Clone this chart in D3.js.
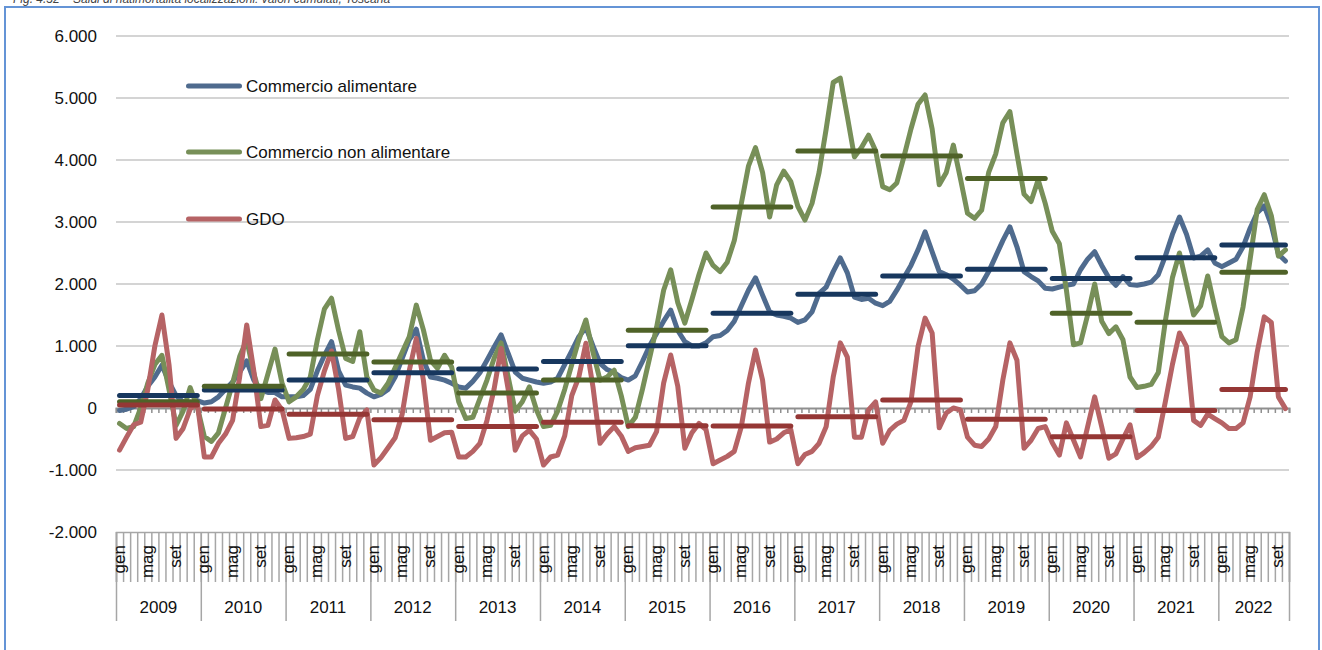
<!DOCTYPE html>
<html>
<head>
<meta charset="utf-8">
<script src="https://cdn.jsdelivr.net/npm/d3@7/dist/d3.min.js"></script>
<style>
  body { margin: 0; background: #fff; }
  svg text { font-family: "Liberation Sans", Arial, sans-serif; }
</style>
</head>
<body>
<svg id="chart" width="1322" height="650"></svg>
<script>
// ---- data ---------------------------------------------------------------
const years = [2009, 2010, 2011, 2012, 2013, 2014, 2015, 2016, 2017, 2018, 2019, 2020, 2021, 2022];
const monthNames = ["gen", "feb", "mar", "apr", "mag", "giu", "lug", "ago", "set", "ott", "nov", "dic"];
const shownMonths = ["gen", "mag", "set"];
const monthsInLastYear = 10;
const yTicks = [-2000, -1000, 0, 1000, 2000, 3000, 4000, 5000, 6000];

// monthly values, one row per year (2022: gen-ott)
const alimentare = [
  -40, -20, 20, 150, 350, 500, 690, 420, 200, 100, 80, 120,
  80, 100, 180, 300, 420, 580, 760, 450, 290, 250, 250, 180,
  180, 180, 200, 300, 600, 850, 1070, 600, 370, 340, 320, 240,
  180, 220, 300, 500, 800, 1100, 1270, 770, 500, 480, 450, 400,
  340, 320, 430, 570, 770, 980, 1180, 880, 580, 480, 450, 420,
  400, 420, 480, 700, 920, 1150, 1300, 1000, 720, 620, 570, 490,
  450, 520, 750, 1000, 1200, 1400, 1580, 1250, 1070, 1000, 1000, 1050,
  1150, 1170, 1250, 1400, 1650, 1900, 2100, 1820, 1550, 1500, 1480, 1450,
  1380, 1420, 1550, 1850, 1950, 2200, 2420, 2180, 1790, 1750, 1770, 1690,
  1650, 1720, 1900, 2100, 2300, 2550, 2840, 2520, 2200, 2150, 2080, 1980,
  1870, 1890, 2000, 2200, 2450, 2700, 2920, 2600, 2200, 2120, 2050, 1930,
  1920, 1950, 1980, 2000, 2230, 2400, 2520, 2300, 2100, 1980, 2120, 1990,
  1980, 2000, 2030, 2150, 2450, 2800, 3080, 2800, 2420, 2450, 2550, 2340,
  2280, 2340, 2400, 2600, 2900, 3150, 3260, 2950, 2480, 2370
];
const nonAlimentare = [
  -250, -330, -300, 0, 400, 700, 850, 300, -280, -50, 330, 20,
  -460, -540, -400, 0, 400, 830, 1100, 560, 150, 550, 950, 400,
  100, 180, 300, 500, 1100, 1600, 1770, 1250, 800, 750, 1230, 500,
  290, 240, 400, 650, 900, 1150, 1660, 1260, 770, 640, 850, 660,
  100, -170, -150, 150, 450, 800, 1050, 500, -50, 100, 340, -30,
  -300, -280, -50, 300, 700, 1100, 1420, 900, 450, 500, 610, 200,
  -300, -150, 300, 800, 1300, 1900, 2230, 1700, 1370, 1750, 2150, 2500,
  2300, 2200, 2350, 2700, 3300, 3900, 4200, 3800, 3080, 3600, 3820, 3650,
  3250, 3030, 3300, 3800, 4500, 5250, 5320, 4700, 4050, 4200, 4400, 4150,
  3570, 3520, 3630, 4050, 4500, 4900, 5050, 4500, 3600, 3800, 4240, 3700,
  3140, 3060, 3190, 3800, 4100, 4600, 4780, 4100, 3450, 3330, 3680, 3300,
  2850, 2650, 1900, 1020, 1050, 1500, 2000, 1400, 1200, 1310, 1100, 500,
  330, 350, 380, 570, 1400, 2100, 2500, 2000, 1500, 1650, 2130, 1620,
  1150, 1050, 1100, 1630, 2400, 3200, 3440, 3100, 2450, 2550
];
const gdo = [
  -680, -470, -270, -230, 300, 1000, 1500, 700, -490, -330, -20, 80,
  -790, -790, -570, -420, -200, 500, 1340, 600, -300, -280, 130, -30,
  -490, -480, -460, -420, 200, 600, 920, 300, -490, -460, -160, -30,
  -920, -800, -640, -480, -100, 600, 1120, 450, -520, -460, -400, -390,
  -790, -790, -700, -570, -200, 300, 960, 300, -680, -450, -360, -500,
  -920, -790, -760, -450, 200, 500, 1045, 340, -570, -420, -300, -450,
  -700, -640, -620, -600, -380, 400, 855, 350, -650, -400, -250, -350,
  -900, -840, -780, -700, -300, 400, 935, 450, -550, -500, -400, -350,
  -900, -750, -700, -570, -300, 500, 1050, 820, -470, -470, -30, 100,
  -570, -360, -260, -200, 100, 990, 1450, 1210, -320, -80, 0, -30,
  -470, -600, -620, -500, -300, 450, 1050, 770, -650, -520, -330, -300,
  -560, -760, -240, -515, -790, -305, 180, -305, -810, -740, -500, -270,
  -800, -720, -620, -470, 100, 700, 1210, 990, -200, -280, -100, -170,
  -240, -330, -330, -240, 180, 900, 1470, 1380, 180, -10
];

// yearly averages, one value per year
const mediaAlimentare = [200, 290, 450, 570, 630, 750, 1005, 1530, 1835, 2130, 2237, 2090, 2425, 2630];
const mediaNonAlimentare = [100, 350, 870, 740, 240, 450, 1255, 3240, 4145, 4065, 3700, 1530, 1385, 2190];
const mediaGdo = [50, -15, -100, -190, -300, -230, -285, -290, -140, 130, -180, -465, -40, 300];

// ---- chart --------------------------------------------------------------
const svg = d3.select("#chart");
const W = 1322, H = 650;
const plot = { left: 116, right: 1289, top: 36, bottom: 532 };

svg.append("rect").attr("width", W).attr("height", H).attr("fill", "#fff");

// caption line above the frame (only its lower part falls inside the page)
svg.append("text")
  .attr("x", 13).attr("y", 3)
  .attr("font-size", 12).attr("font-style", "italic").attr("fill", "#444")
  .text("Fig. 4.32 – Saldi di natimortalità localizzazioni: valori cumulati, Toscana");

// outer frame
svg.append("rect")
  .attr("x", 5).attr("y", 7).attr("width", 1314).attr("height", 700)
  .attr("fill", "none").attr("stroke", "#6494d6").attr("stroke-width", 2);

// month index list
const months = [];
years.forEach((yr, k) => {
  const n = k === years.length - 1 ? monthsInLastYear : 12;
  for (let m = 0; m < n; m++) months.push({ year: yr, m: m, i: months.length });
});
const N = months.length;

const x = d3.scaleBand().domain(d3.range(N)).range([plot.left, plot.right]).padding(0);
const xb = d3.scaleLinear().domain([0, N]).range([plot.left, plot.right]); // month boundaries
const cx = i => x(i) + x.bandwidth() / 2;
const y = d3.scaleLinear().domain([-2000, 6000]).range([plot.bottom, plot.top]);

const it = d3.formatLocale({ decimal: ",", thousands: ".", grouping: [3], currency: ["€", ""], minus: "-" });
const fmt = it.format(",d");

// horizontal grid
svg.append("g")
  .selectAll("line")
  .data(yTicks.filter(v => v !== 0 && v !== -2000))
  .join("line")
  .attr("x1", plot.left).attr("x2", plot.right)
  .attr("y1", d => y(d)).attr("y2", d => y(d))
  .attr("stroke", "#c6c6c6").attr("stroke-width", 1.5);

// value axis labels
const yAxis = svg.append("g")
  .attr("transform", `translate(${plot.left},0)`)
  .call(d3.axisLeft(y).tickValues(yTicks).tickFormat(fmt).tickSize(0).tickPadding(19));
yAxis.select(".domain").remove();
yAxis.selectAll("text").attr("font-size", 17).attr("fill", "#111")
  .attr("font-family", "Liberation Sans, Arial, sans-serif");

// zero line with monthly ticks
const zeroAxis = svg.append("g")
  .attr("transform", `translate(0,${y(0)})`)
  .call(d3.axisBottom(xb).tickValues(d3.range(N + 1)).tickSize(5).tickFormat(""));
zeroAxis.select(".domain").attr("stroke", "#8f8f8f").attr("stroke-width", 2);
zeroAxis.selectAll(".tick line").attr("stroke", "#8f8f8f").attr("stroke-width", 1.5);

// category axis at the bottom: month ticks and year separators
const monthAxis = svg.append("g")
  .attr("transform", `translate(0,${plot.bottom})`)
  .call(d3.axisBottom(xb).tickValues(d3.range(N + 1)).tickSize(50).tickFormat(""));
monthAxis.select(".domain").attr("stroke", "#a6a6a6").attr("stroke-width", 1.5);
monthAxis.selectAll(".tick line").attr("stroke", "#a6a6a6").attr("stroke-width", 1.5);

const yearStarts = years.map((yr, k) => k * 12).concat([N]);
const yearAxis = svg.append("g")
  .attr("transform", `translate(0,${plot.bottom})`)
  .call(d3.axisBottom(xb).tickValues(yearStarts).tickSize(89).tickFormat(""));
yearAxis.select(".domain").remove();
yearAxis.selectAll(".tick line").attr("stroke", "#a6a6a6").attr("stroke-width", 1.5);

// month labels (rotated)
svg.append("g")
  .selectAll("text")
  .data(months.filter(d => shownMonths.includes(monthNames[d.m])))
  .join("text")
  .attr("transform", d => `translate(${cx(d.i) + 5},${plot.bottom + 13}) rotate(-90)`)
  .attr("text-anchor", "end")
  .attr("font-size", 17).attr("fill", "#111")
  .text(d => monthNames[d.m]);

// year labels
svg.append("g")
  .selectAll("text")
  .data(years)
  .join("text")
  .attr("x", (d, k) => (xb(yearStarts[k]) + xb(yearStarts[k + 1])) / 2)
  .attr("y", 613)
  .attr("text-anchor", "middle")
  .attr("font-size", 17).attr("fill", "#111")
  .text(d => d);

// series
const series = [
  { name: "Commercio alimentare", values: alimentare, avg: mediaAlimentare, color: "#4f6b8e", dark: "#17375e" },
  { name: "Commercio non alimentare", values: nonAlimentare, avg: mediaNonAlimentare, color: "#778f58", dark: "#4f6228" },
  { name: "GDO", values: gdo, avg: mediaGdo, color: "#b66365", dark: "#953735" }
];

const line = d3.line().x(d => cx(d.i)).y(d => y(d.v));

series.forEach(s => {
  svg.append("path")
    .datum(s.values.map((v, i) => ({ i, v })))
    .attr("d", line)
    .attr("fill", "none")
    .attr("stroke", s.color)
    .attr("stroke-width", 5)
    .attr("stroke-linejoin", "round")
    .attr("stroke-linecap", "round");
});

// yearly average segments, Jan to last month of each year
series.forEach(s => {
  svg.append("g")
    .selectAll("path")
    .data(years.map((yr, k) => {
      const first = yearStarts[k], last = yearStarts[k + 1] - 1;
      return [{ i: first, v: s.avg[k] }, { i: last, v: s.avg[k] }];
    }))
    .join("path")
    .attr("d", line)
    .attr("fill", "none")
    .attr("stroke", s.dark)
    .attr("stroke-width", 5)
    .attr("stroke-linecap", "round");
});

// legend
const legendY = [86, 152, 219];
const legend = svg.append("g");
series.forEach((s, k) => {
  legend.append("line")
    .attr("x1", 188.5).attr("x2", 239.5)
    .attr("y1", legendY[k]).attr("y2", legendY[k])
    .attr("stroke", s.color).attr("stroke-width", 5).attr("stroke-linecap", "round");
  legend.append("text")
    .attr("x", 246).attr("y", legendY[k]).attr("dy", "0.36em")
    .attr("font-size", 17).attr("fill", "#111")
    .text(s.name);
});
</script>
</body>
</html>
